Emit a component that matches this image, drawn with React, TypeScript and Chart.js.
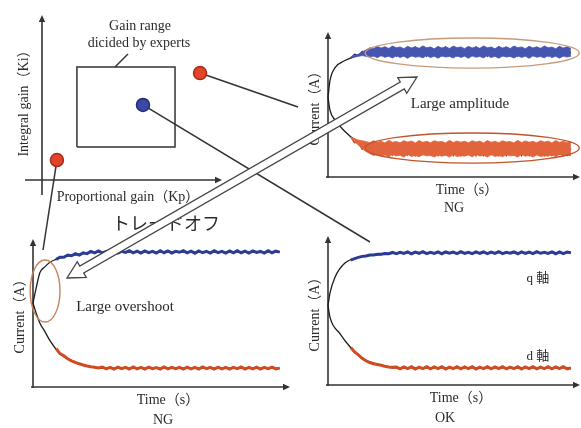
import React, { useEffect, useRef } from "react";
import { Chart, registerables } from "chart.js";

Chart.register(...registerables);

const W = 581;
const H = 428;

// ---------- gain plane (Kp, Ki) ----------
const GAIN_KP = [8.78, 5.61, 0.83];
const GAIN_KI = [6.48, 4.55, 1.21];
const GAIN_RESULT = ["NG", "OK", "NG"];
const BOX_KP = [1.94, 7.39, 7.39, 1.94, 1.94];
const BOX_KI = [2.0, 2.0, 6.85, 6.85, 2.0];

// ---------- shared noisy-sample times ----------
const NOISE_T = [
  9, 10.5, 12, 13.5, 15, 16.5, 18, 19.5, 21, 22.5,
  24, 25.5, 27, 28.5, 30, 31.5, 33, 34.5, 36, 37.5,
  39, 40.5, 42, 43.5, 45, 46.5, 48, 49.5, 51, 52.5,
  54, 55.5, 57, 58.5, 60, 61.5, 63, 64.5, 66, 67.5,
  69, 70.5, 72, 73.5, 75, 76.5, 78, 79.5, 81, 82.5,
  84, 85.5, 87, 88.5, 90, 91.5, 93, 94.5, 96,
];

// ---------- top-right: NG, large amplitude ----------
const TR_BLACK_T = [0, 0.8, 2.8, 6.7, 10.7, 14.6, 18.6, 30, 50, 70, 96];
const TR_Q_BLACK = [56, 68, 77, 82, 85, 87, 87.8, 88, 88, 88, 88];
const TR_D_BLACK = [56, 47, 40, 32, 26, 22.5, 20.8, 20, 20, 20, 20];
const TR_Q_UPPER = [
  84.5, 85.5, 86.5, 88, 89.5, 91, 90.5, 92, 90.8, 91.8,
  90.5, 92.2, 91, 91.6, 90.4, 92, 90.9, 91.7, 90.6, 92.3,
  91, 91.5, 90.3, 92, 90.8, 91.8, 90.5, 92.2, 91.1, 91.6,
  90.4, 92, 90.9, 91.7, 90.6, 92.3, 91, 91.5, 90.3, 92,
  90.8, 91.8, 90.5, 92.2, 91.1, 91.6, 90.4, 92, 90.9, 91.7,
  90.6, 92.3, 91, 91.5, 90.3, 92, 90.8, 91.8, 90.5,
];
const TR_Q_LOWER = [
  83.5, 84.5, 85, 85.5, 85, 84.5, 85.2, 84, 85.5, 84.3,
  85, 83.8, 85.4, 84.2, 85.1, 83.6, 85.3, 84.4, 84.8, 83.9,
  85.5, 84.1, 85, 83.7, 85.2, 84.5, 84.9, 83.8, 85.4, 84.2,
  85.1, 83.6, 85.3, 84.4, 84.8, 83.9, 85.5, 84.1, 85, 83.7,
  85.2, 84.5, 84.9, 83.8, 85.4, 84.2, 85.1, 83.6, 85.3, 84.4,
  84.8, 83.9, 85.5, 84.1, 85, 83.7, 85.2, 84.5, 85,
];
const TR_Q_NOISE = [
  84, 86.5, 85.5, 88.5, 86, 90, 85.5, 91, 85.5, 90.5,
  86, 91.5, 85, 90, 87, 91, 85.5, 91.5, 86, 90,
  85, 91, 86.5, 90.5, 85.5, 91.5, 86, 90, 85, 91,
  87, 90.5, 85.5, 91.5, 86, 90, 85, 91, 86.5, 91.5,
  85.5, 90, 86, 91, 85, 90.5, 87, 91.5, 85.5, 90,
  86, 91, 85, 90.5, 86.5, 91.5, 85.5, 90, 87,
];
const TR_D_UPPER = [
  28.5, 27, 26, 25.5, 25, 24.2, 25.6, 24.4, 25.2, 24,
  25.8, 24.5, 25, 24.1, 25.6, 24.6, 25.3, 24, 25.7, 24.4,
  25.1, 24.2, 25.5, 24.7, 25, 24, 25.8, 24.3, 25.4, 24.5,
  25.2, 24.1, 25.6, 24.6, 25.3, 24, 25.7, 24.4, 25.1, 24.2,
  25.5, 24.7, 25, 24, 25.8, 24.3, 25.4, 24.5, 25.2, 24.1,
  25.6, 24.6, 25.3, 24, 25.7, 24.4, 25.1, 24.2, 24.8,
];
const TR_D_LOWER = [
  27.5, 25, 22.5, 20, 18, 16.5, 15.2, 16, 14.6, 15.5,
  14.2, 15.8, 14.8, 15.3, 14, 15.9, 14.5, 15.1, 14.3, 15.7,
  14.9, 15.2, 14.1, 15.6, 14.6, 15.4, 14, 15.8, 14.4, 15,
  14.7, 15.5, 14.2, 15.9, 14.8, 15.3, 14, 15.7, 14.5, 15.1,
  14.3, 15.6, 14.9, 15.2, 14.1, 15.8, 14.6, 15.4, 14, 15.5,
  14.4, 15, 14.7, 15.6, 14.2, 15.9, 14.8, 15.3, 15,
];
const TR_D_NOISE = [
  28, 24, 24.5, 19.5, 22, 17.5, 22.5, 16, 21.5, 16.5,
  23, 15.5, 22, 16.5, 23.5, 15.5, 21, 15, 22.5, 16,
  23, 15.5, 21.5, 15, 23, 16, 22, 15, 23.5, 15,
  21.5, 16.5, 22.5, 15, 23, 15, 22, 16, 21, 15,
  23.5, 15, 22, 16, 23, 15, 21.5, 15, 22.5, 16.5,
  23, 15, 22, 15, 23.5, 16, 21.5, 15, 20,
];

// ---------- bottom-left: NG, large overshoot ----------
const BL_Q_BLACK_T = [0, 1.2, 2.7, 4.7, 6.6, 10.5, 16, 26, 50, 75, 96];
const BL_Q_BLACK = [58, 68, 79, 83, 86, 89, 91, 93, 93, 93, 93];
const BL_D_BLACK_T = [0, 1.2, 2.7, 4.7, 6.6, 10.5, 16, 21, 26, 50, 75, 96];
const BL_D_BLACK = [58, 51, 44, 38, 32, 23, 17, 14.5, 13, 13, 13, 13];
const BL_Q_NOISE = [
  88, 89.5, 89.5, 91, 90.5, 92, 91, 92.5, 92, 93.5,
  92.5, 93.8, 92.3, 93.5, 92.6, 94, 92.4, 93.6, 92.8, 94,
  92.5, 93.7, 92.4, 93.9, 92.7, 93.5, 92.3, 94, 92.6, 93.8,
  92.4, 93.6, 92.9, 94, 92.5, 93.7, 92.3, 93.9, 92.6, 93.5,
  92.4, 94, 92.7, 93.6, 92.3, 93.8, 92.5, 94, 92.6, 93.7,
  92.4, 93.9, 92.8, 93.5, 92.4, 94, 92.6, 93.7, 93,
];
const BL_D_NOISE = [
  26.5, 23, 21.5, 19.5, 18, 17, 16, 15.2, 14.5, 14,
  13.6, 13.2, 13.8, 12.5, 13.6, 12.4, 13.7, 12.6, 13.5, 12.3,
  13.8, 12.5, 13.6, 12.4, 13.7, 12.6, 13.4, 12.3, 13.8, 12.5,
  13.6, 12.6, 13.5, 12.3, 13.7, 12.5, 13.6, 12.4, 13.8, 12.6,
  13.5, 12.4, 13.7, 12.5, 13.6, 12.3, 13.5, 12.6, 13.8, 12.4,
  13.6, 12.5, 13.7, 12.4, 13.5, 12.6, 13.7, 12.5, 13,
];

// ---------- bottom-right: OK ----------
const BR_Q_BLACK_T = [0, 0.8, 2.8, 6.7, 12.6, 22.5, 40, 70, 96];
const BR_Q_BLACK = [54, 62.6, 73.5, 83, 87, 89, 90, 90, 90];
const BR_D_BLACK_T = [0, 0.8, 4.7, 8.7, 13.4, 20.6, 26.5, 50, 75, 96];
const BR_D_BLACK = [54, 46, 35, 26, 18.4, 13.6, 11.6, 11.6, 11.6, 11.6];
const BR_Q_NOISE = [
  85, 86, 86.8, 87.5, 87.8, 88.4, 88.5, 89, 88.9, 89.5,
  89.3, 90.2, 89.4, 90.3, 89.5, 90.6, 89.3, 90.4, 89.6, 90.7,
  89.4, 90.3, 89.5, 90.6, 89.3, 90.5, 89.6, 90.4, 89.4, 90.7,
  89.5, 90.3, 89.4, 90.6, 89.6, 90.5, 89.3, 90.4, 89.5, 90.7,
  89.4, 90.3, 89.6, 90.5, 89.3, 90.6, 89.5, 90.4, 89.4, 90.7,
  89.6, 90.3, 89.5, 90.5, 89.3, 90.6, 89.4, 90.4, 90,
];
const BR_D_NOISE = [
  25.5, 22.5, 20.5, 18.2, 16.5, 15.3, 14.5, 14, 13.4, 12.8,
  12.3, 12, 12.2, 11, 12.3, 11.1, 12.4, 10.9, 12.2, 11.2,
  12.5, 11, 12.3, 11.1, 12.4, 10.9, 12.2, 11.2, 12.5, 11,
  12.3, 11.1, 12.4, 10.9, 12.2, 11.2, 12.5, 11, 12.3, 11.1,
  12.4, 11, 12.2, 11.2, 12.5, 10.9, 12.3, 11.1, 12.4, 11,
  12.2, 11.2, 12.5, 11, 12.3, 11.1, 12.4, 11, 11.6,
];

// ---------- styles ----------
const BLUE = "#2c3c95";
const RED = "#d04a22";
const BLACK = "#1c1c1c";
const AXIS = "#333333";
const SERIF = '"Liberation Serif", "Noto Sans CJK JP", serif';
const SANS_JP = '"Noto Sans CJK JP", sans-serif';

type Area = { l: number; t: number; r: number; b: number };
type XY = { x: number; y: number };

function pts(ts: number[], vs: number[]): XY[] {
  const n = Math.min(ts.length, vs.length);
  const out: XY[] = [];
  for (let i = 0; i < n; i++) out.push({ x: ts[i], y: vs[i] });
  return out;
}

function padFor(a: Area) {
  return { left: a.l, top: a.t, right: W - a.r, bottom: H - a.b };
}

function axisArrow(ctx: CanvasRenderingContext2D, x1: number, y1: number, x2: number, y2: number) {
  const dx = x2 - x1, dy = y2 - y1;
  const L = Math.hypot(dx, dy);
  const ux = dx / L, uy = dy / L;
  ctx.save();
  ctx.strokeStyle = AXIS;
  ctx.fillStyle = AXIS;
  ctx.lineWidth = 1.6;
  ctx.beginPath();
  ctx.moveTo(x1, y1);
  ctx.lineTo(x2 - ux * 4, y2 - uy * 4);
  ctx.stroke();
  const hl = 7, hw = 3.2;
  ctx.beginPath();
  ctx.moveTo(x2, y2);
  ctx.lineTo(x2 - ux * hl - uy * hw, y2 - uy * hl + ux * hw);
  ctx.lineTo(x2 - ux * hl + uy * hw, y2 - uy * hl - ux * hw);
  ctx.closePath();
  ctx.fill();
  ctx.restore();
}

function hollowArrow(ctx: CanvasRenderingContext2D, x1: number, y1: number, x2: number, y2: number) {
  const dx = x2 - x1, dy = y2 - y1;
  const L = Math.hypot(dx, dy);
  const ux = dx / L, uy = dy / L;
  const nx = -uy, ny = ux;
  const hw = 4, hh = 9, hl = 17;
  const P = (t: number, s: number): [number, number] => [x1 + ux * t + nx * s, y1 + uy * t + ny * s];
  const list = [P(0, 0), P(hl, hh), P(hl, hw), P(L - hl, hw), P(L - hl, hh), P(L, 0), P(L - hl, -hh), P(L - hl, -hw), P(hl, -hw), P(hl, -hh)];
  ctx.save();
  ctx.beginPath();
  ctx.moveTo(list[0][0], list[0][1]);
  for (let i = 1; i < list.length; i++) ctx.lineTo(list[i][0], list[i][1]);
  ctx.closePath();
  ctx.fillStyle = "#ffffff";
  ctx.fill();
  ctx.strokeStyle = "#444444";
  ctx.lineWidth = 1.3;
  ctx.stroke();
  ctx.restore();
}

type Ell = { cx: number; cy: number; rx: number; ry: number; color: string };
type LineSpec = { label: string; data: XY[]; color: string; width: number; smooth?: boolean };
type BandSpec = { label: string; lower: XY[]; upper: XY[]; color: string };

type PanelCfg = {
  area: Area;
  yTop: number;
  xRight: number;
  bands: BandSpec[];
  lines: LineSpec[];
  ellipses: Ell[];
};

function baseOptions(area: Area, xmax: number, ymax: number) {
  return {
    responsive: false,
    maintainAspectRatio: false,
    animation: false as const,
    events: [] as any[],
    layout: { padding: padFor(area) },
    plugins: {
      legend: { display: false },
      tooltip: { enabled: false },
      title: { display: false },
      filler: { propagate: false },
    },
    scales: {
      x: { type: "linear" as const, display: false, min: 0, max: xmax },
      y: { type: "linear" as const, display: false, min: 0, max: ymax },
    },
  };
}

function makeTimePanel(canvas: HTMLCanvasElement, p: PanelCfg) {
  const plugin = {
    id: "panelDeco",
    beforeDatasetsDraw(chart: any) {
      const ctx = chart.ctx as CanvasRenderingContext2D;
      const ca = chart.chartArea;
      axisArrow(ctx, ca.left, ca.bottom + 1, ca.left, p.yTop);
      axisArrow(ctx, ca.left - 2, ca.bottom, p.xRight, ca.bottom);
    },
    afterDatasetsDraw(chart: any) {
      const ctx = chart.ctx as CanvasRenderingContext2D;
      const xs = chart.scales.x, ys = chart.scales.y;
      p.ellipses.forEach((e) => {
        const cx = xs.getPixelForValue(e.cx);
        const cy = ys.getPixelForValue(e.cy);
        const rx = Math.abs(xs.getPixelForValue(e.cx + e.rx) - cx);
        const ry = Math.abs(ys.getPixelForValue(e.cy + e.ry) - cy);
        ctx.save();
        ctx.beginPath();
        ctx.ellipse(cx, cy, rx, ry, 0, 0, Math.PI * 2);
        ctx.strokeStyle = e.color;
        ctx.lineWidth = 1.4;
        ctx.stroke();
        ctx.restore();
      });
    },
  };
  const datasets: any[] = [];
  p.bands.forEach((b) => {
    datasets.push({ label: b.label + " lower", data: b.lower, borderColor: b.color, borderWidth: 0.8, pointRadius: 0, tension: 0, fill: false, clip: false });
    datasets.push({ label: b.label + " upper", data: b.upper, borderColor: b.color, backgroundColor: b.color, borderWidth: 0.8, pointRadius: 0, tension: 0, fill: "-1", clip: false });
  });
  p.lines.forEach((l) => {
    datasets.push({
      label: l.label,
      data: l.data,
      borderColor: l.color,
      borderWidth: l.width,
      pointRadius: 0,
      tension: 0,
      cubicInterpolationMode: l.smooth ? "monotone" : "default",
      fill: false,
      clip: false,
    });
  });
  return new Chart(canvas, {
    type: "line",
    data: { datasets },
    options: baseOptions(p.area, 100, 100) as any,
    plugins: [plugin],
  });
}

function makeGainChart(canvas: HTMLCanvasElement) {
  const area: Area = { l: 42, t: 15, r: 222, b: 180 };
  const dotColor = (r: string) => (r === "OK" ? "#3a48a6" : "#e2432b");
  const dotBorder = (r: string) => (r === "OK" ? "#222c7a" : "#a82a18");
  const plugin = {
    id: "gainDeco",
    beforeDatasetsDraw(chart: any) {
      const ctx = chart.ctx as CanvasRenderingContext2D;
      const ca = chart.chartArea;
      axisArrow(ctx, ca.left, ca.bottom + 15, ca.left, ca.top);
      axisArrow(ctx, ca.left - 17, ca.bottom, ca.right, ca.bottom);
      const xs = chart.scales.x, ys = chart.scales.y;
      const ends: [number, number][] = [[298, 107], [370, 242], [43, 250]];
      ctx.save();
      ctx.strokeStyle = "#333";
      ctx.lineWidth = 1.5;
      GAIN_KP.forEach((kp, i) => {
        ctx.beginPath();
        ctx.moveTo(xs.getPixelForValue(kp), ys.getPixelForValue(GAIN_KI[i]));
        ctx.lineTo(ends[i][0], ends[i][1]);
        ctx.stroke();
      });
      ctx.beginPath();
      ctx.moveTo(128, 54);
      ctx.lineTo(115, 67);
      ctx.stroke();
      ctx.restore();
    },
    afterDraw(chart: any) {
      hollowArrow(chart.ctx, 67, 278, 417, 77);
    },
  };
  return new Chart(canvas, {
    type: "scatter",
    data: {
      datasets: [
        {
          label: "Gain range",
          data: pts(BOX_KP, BOX_KI),
          showLine: true,
          borderColor: "#333",
          borderWidth: 1.5,
          pointRadius: 0,
          clip: false,
        } as any,
        {
          label: "gains",
          data: pts(GAIN_KP, GAIN_KI),
          pointRadius: 6.5,
          pointBackgroundColor: GAIN_RESULT.map(dotColor),
          pointBorderColor: GAIN_RESULT.map(dotBorder),
          pointBorderWidth: 1.5,
          showLine: false,
          clip: false,
        } as any,
      ],
    },
    options: baseOptions(area, 10, 10) as any,
    plugins: [plugin],
  });
}

type Label = { text: string; x: number; y: number; size: number; rot?: boolean; font?: string };

const LABELS: Label[] = [
  { text: "Gain range", x: 140, y: 26, size: 14 },
  { text: "dicided by experts", x: 139, y: 43, size: 14 },
  { text: "Integral gain（Ki）", x: 24, y: 100, size: 14, rot: true },
  { text: "Proportional gain（Kp）", x: 128, y: 197, size: 14 },
  { text: "トレードオフ", x: 166, y: 222, size: 18, font: SANS_JP },
  { text: "Large amplitude", x: 460, y: 103, size: 15 },
  { text: "Current（A）", x: 315, y: 105, size: 14, rot: true },
  { text: "Time（s）", x: 467, y: 190, size: 14 },
  { text: "NG", x: 454, y: 208, size: 14 },
  { text: "Current（A）", x: 20, y: 313, size: 14, rot: true },
  { text: "Large overshoot", x: 125, y: 306, size: 15 },
  { text: "Time（s）", x: 168, y: 400, size: 14 },
  { text: "NG", x: 163, y: 420, size: 14 },
  { text: "Current（A）", x: 315, y: 311, size: 14, rot: true },
  { text: "q 軸", x: 538, y: 277, size: 13 },
  { text: "d 軸", x: 538, y: 355, size: 13 },
  { text: "Time（s）", x: 461, y: 398, size: 14 },
  { text: "OK", x: 445, y: 418, size: 14 },
];

export default function App() {
  const trRef = useRef<HTMLCanvasElement>(null);
  const blRef = useRef<HTMLCanvasElement>(null);
  const brRef = useRef<HTMLCanvasElement>(null);
  const gainRef = useRef<HTMLCanvasElement>(null);

  useEffect(() => {
    const charts: Chart[] = [];
    charts.push(
      makeTimePanel(trRef.current!, {
        area: { l: 328, t: 35, r: 581, b: 177 },
        yTop: 32,
        xRight: 580,
        bands: [
          { label: "q band", lower: pts(NOISE_T, TR_Q_LOWER), upper: pts(NOISE_T, TR_Q_UPPER), color: "#4656b0" },
          { label: "d band", lower: pts(NOISE_T, TR_D_LOWER), upper: pts(NOISE_T, TR_D_UPPER), color: "#e2643c" },
        ],
        lines: [
          { label: "q spikes", data: pts(NOISE_T, TR_Q_NOISE), color: "#1e2a78", width: 1.1 },
          { label: "d spikes", data: pts(NOISE_T, TR_D_NOISE), color: "#a8301a", width: 1.1 },
          { label: "q", data: pts(TR_BLACK_T, TR_Q_BLACK), color: BLACK, width: 1.3, smooth: true },
          { label: "d", data: pts(TR_BLACK_T, TR_D_BLACK), color: BLACK, width: 1.3, smooth: true },
        ],
        ellipses: [
          { cx: 57, cy: 87.3, rx: 42.3, ry: 10.6, color: "#c99a78" },
          { cx: 57, cy: 20.4, rx: 42.3, ry: 10.6, color: "#c0542a" },
        ],
      })
    );
    charts.push(
      makeTimePanel(blRef.current!, {
        area: { l: 33, t: 242, r: 290, b: 387 },
        yTop: 239,
        xRight: 290,
        bands: [],
        lines: [
          { label: "q noise", data: pts(NOISE_T, BL_Q_NOISE), color: BLUE, width: 3 },
          { label: "d noise", data: pts(NOISE_T, BL_D_NOISE), color: RED, width: 3 },
          { label: "q", data: pts(BL_Q_BLACK_T, BL_Q_BLACK), color: BLACK, width: 1.3, smooth: true },
          { label: "d", data: pts(BL_D_BLACK_T, BL_D_BLACK), color: BLACK, width: 1.3, smooth: true },
        ],
        ellipses: [{ cx: 4.7, cy: 66.2, rx: 5.8, ry: 21.4, color: "#c8825e" }],
      })
    );
    charts.push(
      makeTimePanel(brRef.current!, {
        area: { l: 328, t: 238, r: 581, b: 385 },
        yTop: 236,
        xRight: 580,
        bands: [],
        lines: [
          { label: "q noise", data: pts(NOISE_T, BR_Q_NOISE), color: BLUE, width: 3 },
          { label: "d noise", data: pts(NOISE_T, BR_D_NOISE), color: RED, width: 3 },
          { label: "q", data: pts(BR_Q_BLACK_T, BR_Q_BLACK), color: BLACK, width: 1.3, smooth: true },
          { label: "d", data: pts(BR_D_BLACK_T, BR_D_BLACK), color: BLACK, width: 1.3, smooth: true },
        ],
        ellipses: [],
      })
    );
    charts.push(makeGainChart(gainRef.current!));
    return () => charts.forEach((c) => c.destroy());
  }, []);

  const canvasStyle = (z: number): React.CSSProperties => ({
    position: "absolute",
    left: 0,
    top: 0,
    width: W,
    height: H,
    zIndex: z,
  });

  return (
    <div
      style={{
        position: "fixed",
        left: 0,
        top: 0,
        width: W,
        height: H,
        background: "#ffffff",
        overflow: "hidden",
      }}
    >
      <canvas ref={trRef} width={W} height={H} style={canvasStyle(0)} />
      <canvas ref={blRef} width={W} height={H} style={canvasStyle(0)} />
      <canvas ref={brRef} width={W} height={H} style={canvasStyle(0)} />
      {LABELS.map((lb, i) => (
        <div
          key={i}
          style={{
            position: "absolute",
            left: lb.x,
            top: lb.y,
            transform: `translate(-50%, -50%)${lb.rot ? " rotate(-90deg)" : ""}`,
            whiteSpace: "nowrap",
            lineHeight: 1,
            fontFamily: lb.font || SERIF,
            fontSize: lb.size,
            color: "#2a2a2a",
            zIndex: 1,
          }}
        >
          {lb.text}
        </div>
      ))}
      <canvas ref={gainRef} width={W} height={H} style={canvasStyle(2)} />
    </div>
  );
}
